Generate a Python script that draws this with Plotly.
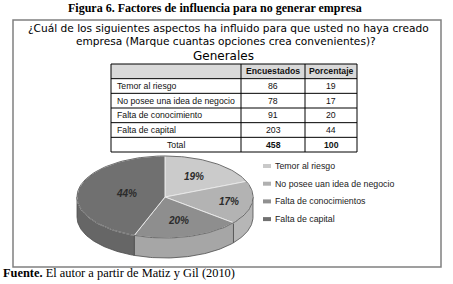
import numpy as np
import plotly.graph_objects as go

# ---------------- data ----------------
title = "Figura 6. Factores de influencia para no generar empresa"
question = ["¿Cuál de los siguientes aspectos ha influido para que usted no haya creado",
            "empresa (Marque cuantas opciones crea convenientes)?"]
subtitle = "Generales"
categories = ["Temor al riesgo", "No posee una idea de negocio", "Falta de conocimiento", "Falta de capital"]
encuestados = [86, 78, 91, 203]
porcentaje = [19, 17, 20, 44]
col_headers = ["Encuestados", "Porcentaje"]
total_label = "Total"
legend_labels = ["Temor al riesgo", "No posee uan idea de negocio", "Falta de conocimientos", "Falta de capital"]
source_bold = "Fuente."
source_text = " El autor a partir de Matiz y Gil (2010)"

# ---------------- style ----------------
W, H = 453, 284
top_colors = ["#cbcbcb", "#b3b3b3", "#8e8e8e", "#707070"]
side_colors = ["#b8b8b8", "#b6b6b6", "#a6a6a6", "#666666"]
legend_colors = ["#c9c9c9", "#b0b0b0", "#909090", "#717171"]
SANS = "Liberation Sans, Arial, sans-serif"
SERIF = "Liberation Serif, Times New Roman, serif"
GOTHIC = "DejaVu Sans, sans-serif"

fig = go.Figure()
shapes = []
ann = []

def text(x, y, s, size, family=SANS, color="#111111", xanchor="center"):
    ann.append(dict(x=x, y=y, text=s, showarrow=False, xanchor=xanchor, yanchor="middle",
                    font=dict(size=size, family=family, color=color), xref="x", yref="y"))

def line(x0, y0, x1, y1, color="#000000", width=1):
    shapes.append(dict(type="line", x0=x0, y0=y0, x1=x1, y1=y1, xref="x", yref="y",
                       line=dict(color=color, width=width)))

# title
text(215, 8, "<b>" + title + "</b>", 12, SERIF, "#000000")
# outer box
shapes.append(dict(type="rect", x0=13, y0=20, x1=441, y1=267, xref="x", yref="y",
                   line=dict(color="#808080", width=1.5)))
# question
text(228, 28, question[0], 10.6, GOTHIC, "#000000")
text(226, 41, question[1], 10.6, GOTHIC, "#000000")
text(223, 56, subtitle, 12, GOTHIC, "#000000")

# ---------------- table ----------------
cols = [111, 241, 305, 357]
ty0 = 64
rh = (152 - 64) / 6
nrows = len(categories) + 2
TS = 8.7
shapes.append(dict(type="rect", x0=cols[0], y0=ty0, x1=cols[-1], y1=ty0 + rh, xref="x", yref="y",
                   fillcolor="#d9d9d9", line=dict(width=0), layer="below"))
for i in range(nrows + 1):
    line(cols[0], ty0 + i * rh, cols[-1], ty0 + i * rh, "#000000", 1)
for c in cols:
    line(c, ty0, c, ty0 + nrows * rh, "#000000", 1)

for j, h in enumerate(col_headers):
    text((cols[j + 1] + cols[j + 2]) / 2, ty0 + rh / 2, "<b>" + h + "</b>", TS, SANS, "#111111")
for i, cat in enumerate(categories):
    yc = ty0 + (i + 1.5) * rh
    text(cols[0] + 4, yc, cat, TS, SANS, "#111111", xanchor="left")
    text((cols[1] + cols[2]) / 2, yc, str(encuestados[i]), TS)
    text((cols[2] + cols[3]) / 2, yc, str(porcentaje[i]), TS)
yc = ty0 + (nrows - 0.5) * rh
text((cols[0] + cols[1]) / 2, yc, total_label, TS)
text((cols[1] + cols[2]) / 2, yc, "<b>" + str(sum(encuestados)) + "</b>", TS)
text((cols[2] + cols[3]) / 2, yc, "<b>" + str(sum(porcentaje)) + "</b>", TS)

# ---------------- 3D pie ----------------
cx, cy, rx, ry, depth = 165, 197, 88, 41, 20

def arc(a, b, dy=0, n=60):
    t = np.radians(np.linspace(a, b, n))
    return list(cx + rx * np.sin(t)), list(cy - ry * np.cos(t) + dy)

vals = np.array(encuestados, dtype=float)
cum = np.concatenate([[0], np.cumsum(vals) / vals.sum() * 360])

# sides (front half only: 90..270 deg)
for i in range(len(vals)):
    lo, hi = max(cum[i], 90), min(cum[i + 1], 270)
    if lo < hi:
        xs1, ys1 = arc(lo, hi)
        xs2, ys2 = arc(hi, lo, depth)
        fig.add_trace(go.Scatter(x=xs1 + xs2 + [xs1[0]], y=ys1 + ys2 + [ys1[0]], mode="lines",
                                 fill="toself", fillcolor=side_colors[i],
                                 line=dict(color="#4e4e4e", width=0.8),
                                 hoverinfo="skip", showlegend=False))
# tops
for i in range(len(vals)):
    xs, ys = arc(cum[i], cum[i + 1])
    fig.add_trace(go.Scatter(x=[cx] + xs + [cx], y=[cy] + ys + [cy], mode="lines",
                             fill="toself", fillcolor=top_colors[i],
                             line=dict(color="#e8e8e8", width=1),
                             hoverinfo="skip", showlegend=False))
# outline of the top ellipse
xs, ys = arc(0, 360, 0, 200)
fig.add_trace(go.Scatter(x=xs, y=ys, mode="lines", line=dict(color="#4e4e4e", width=0.8),
                         hoverinfo="skip", showlegend=False))

# slice labels
label_r = [0.6, 0.73, 0.6, 0.45]
for i in range(len(vals)):
    m = np.radians((cum[i] + cum[i + 1]) / 2)
    lx = cx + rx * label_r[i] * np.sin(m)
    ly = cy - ry * label_r[i] * np.cos(m)
    text(lx, ly, "<b><i>%d%%</i></b>" % porcentaje[i], 10, SANS, "#2b2b2b")

# ---------------- legend ----------------
ly0, lstep = 166, 17.7
for i, lab in enumerate(legend_labels):
    y = ly0 + i * lstep
    shapes.append(dict(type="rect", x0=263, y0=y - 2, x1=271, y1=y + 2, xref="x", yref="y",
                       fillcolor=legend_colors[i], line=dict(width=0)))
    text(273, y, lab, 8.8, SANS, "#222222", xanchor="left")

# ---------------- source ----------------
text(1, 273, "<b>" + source_bold + "</b>" + source_text, 12.4, SERIF, "#000000", xanchor="left")

fig.update_layout(
    width=W, height=H, margin=dict(l=0, r=0, t=0, b=0),
    paper_bgcolor="white", plot_bgcolor="white",
    xaxis=dict(range=[0, W], visible=False, fixedrange=True),
    yaxis=dict(range=[H, 0], visible=False, fixedrange=True),
    shapes=shapes, annotations=ann, showlegend=False,
)
fig.write_html("out.html", config={"displayModeBar": False},
               post_script="document.body.style.margin='0';document.body.style.padding='0';")
